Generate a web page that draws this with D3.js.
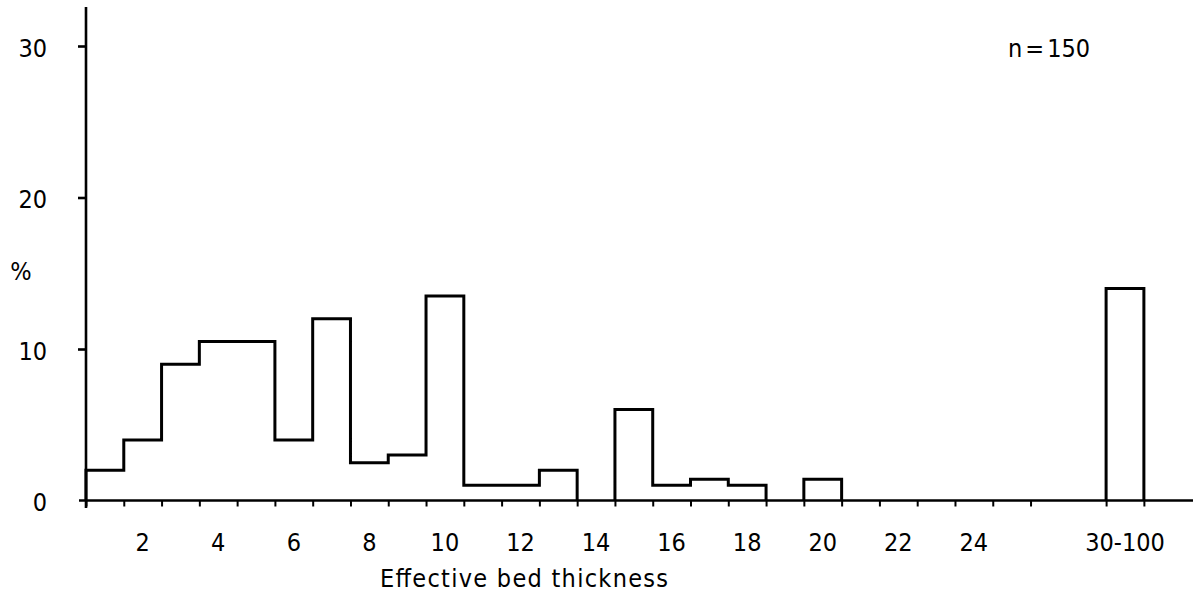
<!DOCTYPE html>
<html>
<head>
<meta charset="utf-8">
<script src="https://cdn.jsdelivr.net/npm/d3@7/dist/d3.min.js"></script>
<style>
  html, body { margin: 0; padding: 0; background: #fff; }
  svg { display: block; }
  text { font-family: "Liberation Sans Narrow", "DejaVu Sans Condensed", sans-serif; fill: #000; }
</style>
</head>
<body>
<svg id="chart" width="1202" height="598"></svg>
<script>
// ---- data ----
const binLabels = ["1","2","3","4","5","6","7","8","9","10","11","12","13","14","15","16","17","18","19","20","21","22","23","24","25","30-100"];
const binStarts = [0,1,2,3,4,5,6,7,8,9,10,11,12,13,14,15,16,17,18,19,20,21,22,23,24,27];
const binValues = [2,4,9,10.5,10.5,4,12,2.5,3,13.5,1,1,2,0,6,1,1.4,1,0,1.4,0,0,0,0,0,14];
const xTickLabels = ["2","4","6","8","10","12","14","16","18","20","22","24","30-100"];
const xTickPositions = [1.5,3.5,5.5,7.5,9.5,11.5,13.5,15.5,17.5,19.5,21.5,23.5,27.5];
const yTicks = [0,10,20,30];
const sampleLabelParts = ["n", "=", "150"];
const xTitle = "Effective bed thickness";
const yTitle = "%";

// ---- layout ----
const svg = d3.select("#chart");
const x = d3.scaleLinear().domain([0, 29.3]).range([86, 1193]);
const y = d3.scaleLinear().domain([0, 30]).range([500.5, 46]);

const bins = binLabels.map((l, i) => ({label: l, x0: binStarts[i], x1: binStarts[i] + 1, v: binValues[i]}));

// group contiguous non-zero bins into outline paths
const groups = [];
let cur = null;
bins.forEach(b => {
  if (b.v > 0) {
    if (cur && cur[cur.length - 1].x1 === b.x0) cur.push(b);
    else { cur = [b]; groups.push(cur); }
  } else cur = null;
});

const line = d3.line().x(d => x(d[0])).y(d => y(d[1]));
groups.forEach(g => {
  const pts = [[g[0].x0, 0]];
  g.forEach(b => { pts.push([b.x0, b.v]); pts.push([b.x1, b.v]); });
  pts.push([g[g.length - 1].x1, 0]);
  svg.append("path")
    .attr("d", line(pts))
    .attr("fill", "none")
    .attr("stroke", "#000")
    .attr("stroke-width", 3)
    .attr("stroke-linejoin", "miter");
});

// x axis
const xTickVals = d3.range(0, 26).concat([27, 28]);
const xAxis = d3.axisBottom(x).tickValues(xTickVals).tickSize(6).tickFormat("");
const gx = svg.append("g").attr("transform", `translate(0,${y(0)})`).call(xAxis);
gx.select(".domain").remove();
gx.selectAll(".tick line").attr("stroke", "#000").attr("stroke-width", 2);
svg.append("line")
  .attr("x1", 79).attr("x2", x(29.3))
  .attr("y1", y(0)).attr("y2", y(0))
  .attr("stroke", "#000").attr("stroke-width", 2.6);

// x tick labels (centered on bins)
svg.append("g").selectAll("text")
  .data(xTickLabels)
  .join("text")
  .attr("x", (d, i) => x(xTickPositions[i]))
  .attr("y", 551)
  .attr("text-anchor", "middle")
  .attr("font-size", 25)
  .text(d => d);

// y axis
const yAxis = d3.axisLeft(y).tickValues(yTicks.filter(v => v > 0)).tickSize(8).tickFormat("");
const gy = svg.append("g").attr("transform", `translate(${x(0)},0)`).call(yAxis);
gy.select(".domain").remove();
gy.selectAll(".tick line").attr("stroke", "#000").attr("stroke-width", 2.6);
svg.append("line")
  .attr("x1", x(0)).attr("x2", x(0))
  .attr("y1", 7).attr("y2", 508)
  .attr("stroke", "#000").attr("stroke-width", 2.6);

svg.append("g").selectAll("text")
  .data(yTicks)
  .join("text")
  .attr("x", 47)
  .attr("y", d => y(d) + 2)
  .attr("text-anchor", "end")
  .attr("dominant-baseline", "central")
  .attr("font-size", 25)
  .text(d => d);

// titles
svg.append("text")
  .attr("x", 21).attr("y", 280)
  .attr("text-anchor", "middle")
  .attr("font-size", 25)
  .text(yTitle);

svg.append("text")
  .attr("x", 380).attr("y", 587)
  .attr("font-size", 25)
  .attr("textLength", 288)
  .attr("lengthAdjust", "spacing")
  .text(xTitle);

const nLabel = svg.append("text")
  .attr("x", 1008).attr("y", 57)
  .attr("font-size", 25);
nLabel.selectAll("tspan")
  .data(sampleLabelParts)
  .join("tspan")
  .attr("dx", (d, i) => i === 0 ? 0 : 3)
  .text(d => d);
</script>
</body>
</html>
